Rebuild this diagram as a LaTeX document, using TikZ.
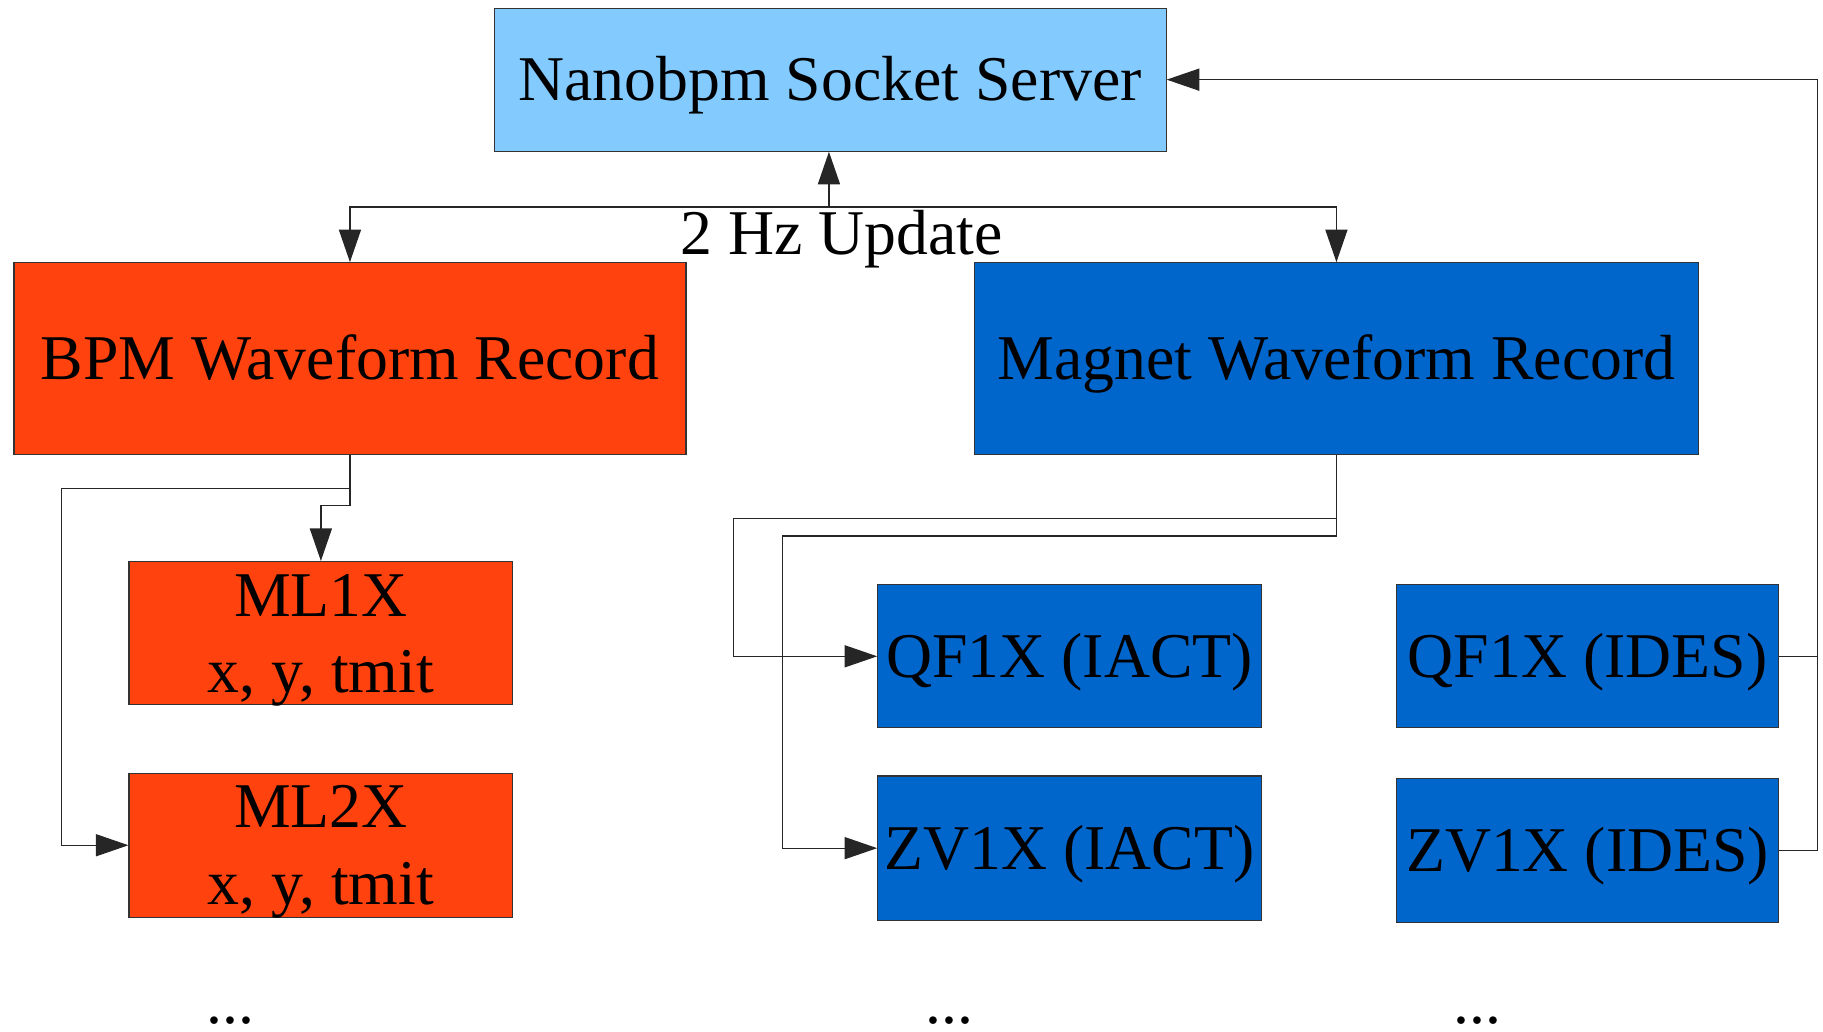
\documentclass[tikz,border=0pt]{standalone}
\usepackage{fontspec}
\setmainfont{Liberation Serif}
\usetikzlibrary{arrows.meta}
\definecolor{srvblue}{HTML}{83CAFF}
\definecolor{bpmred}{HTML}{FF420E}
\definecolor{magblue}{HTML}{0066CC}
\tikzset{
  box/.style={draw=black!80, line width=0.3pt, inner sep=0pt, align=center,
    font=\fontsize{15.6pt}{18.8pt}\selectfont, text height=10.3pt, text depth=0pt},
  plainbox/.style={draw=black!80, line width=0.3pt, inner sep=0pt},
  conn/.style={draw=black!85, line width=0.3pt},
  arr/.style={conn, -{Triangle[length=2.8mm, width=1.9mm]}},
  lbl/.style={inner sep=0pt, align=center, font=\fontsize{15.6pt}{18.8pt}\selectfont}
}
\begin{document}
\begin{tikzpicture}[x=0.1mm, y=-0.1mm]
\useasboundingbox (0,0) rectangle (1568,887);
% boxes
\node[box, fill=srvblue, minimum width=57.8mm, minimum height=12.3mm] (srv) at (714,68.5) {Nanobpm Socket Server};
\node[box, fill=bpmred, minimum width=57.8mm, minimum height=16.5mm] (bpm) at (301,308.5) {BPM Waveform Record};
\node[box, fill=magblue, minimum width=62.3mm, minimum height=16.5mm] (mag) at (1149.5,308.5) {Magnet Waveform Record};
\node[plainbox, fill=bpmred, minimum width=33mm, minimum height=12.3mm] (ml1) at (276,544.5) {};
\node[plainbox, fill=bpmred, minimum width=33mm, minimum height=12.4mm] (ml2) at (276,727) {};
\node[lbl, anchor=base] (ml1t) at (276,596) {ML1X\\x, y, tmit};
\node[lbl, anchor=base] (ml2t) at (276,778) {ML2X\\x, y, tmit};
\node[box, fill=magblue, minimum width=33mm, minimum height=12.3mm] (qfa) at (920,564.5) {QF1X (IACT)};
\node[box, fill=magblue, minimum width=33mm, minimum height=12.4mm] (zva) at (920,729.5) {ZV1X (IACT)};
\node[box, fill=magblue, minimum width=32.9mm, minimum height=12.3mm] (qfd) at (1365.5,564.5) {QF1X (IDES)};
\node[box, fill=magblue, minimum width=32.9mm, minimum height=12.4mm] (zvd) at (1365.5,731.5) {ZV1X (IDES)};
% label and dots
\node[lbl, anchor=base] (upd) at (724,219) {2 Hz Update};
\node[lbl, anchor=base] (d1) at (198,880) {...};
\node[lbl, anchor=base] (d2) at (817,880) {...};
\node[lbl, anchor=base] (d3) at (1271,880) {...};
% connectors
\coordinate (j) at (713,178);
\draw[arr] (j) -- (j |- srv.south);
\draw[arr] (j) -| (bpm.north);
\draw[arr] (j) -| (mag.north);
\draw[arr] (bpm.south) |- (53,420) |- (ml2.west);
\draw[arr] (bpm.south) |- (276,435) -- (ml1.north);
\draw[arr] (mag.south) |- (631,446) |- (qfa.west);
\draw[arr] (mag.south) |- (673,461) |- (zva.west);
\draw[arr] (qfd.east) -- (1563,564.5) |- (srv.east);
\draw[conn] (zvd.east) -| (1563,564.5);
\end{tikzpicture}
\end{document}
